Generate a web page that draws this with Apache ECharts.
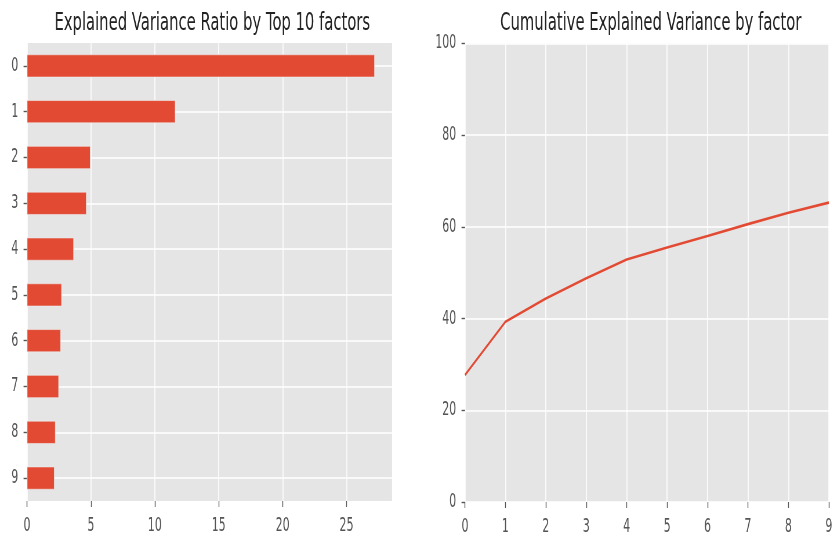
<!DOCTYPE html>
<html>
<head>
<meta charset="utf-8">
<script src="https://cdn.jsdelivr.net/npm/echarts@6/dist/echarts.min.js"></script>
<style>
  html, body { margin: 0; padding: 0; background: #fff; overflow: hidden; }
  /* the reference figure is squashed horizontally, so draw wide and squeeze */
  #chart { width: 1438px; height: 537px; transform: scaleX(0.58); transform-origin: 0 0; }
</style>
</head>
<body>
<div id="chart"></div>
<script>
// values
const factors = ['0', '1', '2', '3', '4', '5', '6', '7', '8', '9']
const varianceRatio = [27.2, 11.6, 4.96, 4.65, 3.65, 2.71, 2.63, 2.48, 2.22, 2.14]
const cumulativeVariance = [27.7, 39.3, 44.4, 48.8, 52.9, 55.5, 58.0, 60.6, 63.1, 65.3]
const ratioTicks = [0, 5, 10, 15, 20, 25]

const RED = '#E24A33'
const PANEL = '#E5E5E5'
const TICK = '#555555'
const FONT = 'DejaVu Sans'

const tickLabel = { color: TICK, fontFamily: FONT, fontSize: 19 }
const whiteGrid = { show: true, lineStyle: { color: '#fff', width: 1.6 } }
const outTick = { show: true, length: 6, lineStyle: { color: TICK, width: 1.4 } }
const titleStyle = { color: '#222', fontFamily: FONT, fontSize: 25.5, fontWeight: 'normal' }

const chart = echarts.init(document.getElementById('chart'))

chart.setOption({
  animation: false,
  title: [
    { text: 'Explained Variance Ratio by Top 10 factors', left: 361, top: 5, textAlign: 'center', textStyle: titleStyle },
    { text: 'Cumulative Explained Variance by factor', left: 1117, top: 5, textAlign: 'center', textStyle: titleStyle },
  ],
  grid: [
    { left: 46.6, width: 629.3, top: 43, bottom: 36, show: true, backgroundColor: PANEL, borderWidth: 0 },
    { left: 801.7, width: 630.5, top: 43.5, bottom: 35, show: true, backgroundColor: PANEL, borderWidth: 0 },
  ],
  xAxis: [
    {
      gridIndex: 0, type: 'value', min: 0, max: Math.max(...varianceRatio) * 1.05, interval: 5,
      axisLine: { show: false },
      axisTick: { ...outTick, customValues: ratioTicks },
      axisLabel: { ...tickLabel, margin: 16, customValues: ratioTicks },
      splitLine: whiteGrid,
    },
    {
      gridIndex: 1, type: 'value', min: 0, max: 9, interval: 1,
      axisLine: { show: false },
      axisTick: outTick,
      axisLabel: { ...tickLabel, margin: 16 },
      splitLine: whiteGrid,
    },
  ],
  yAxis: [
    {
      gridIndex: 0, type: 'category', data: factors, inverse: true,
      axisLine: { show: false },
      axisTick: { ...outTick, alignWithLabel: true },
      axisLabel: { ...tickLabel, margin: 15 },
      splitLine: { ...whiteGrid, alignWithLabel: true },
    },
    {
      gridIndex: 1, type: 'value', min: 0, max: 100, interval: 20,
      axisLine: { show: false },
      axisTick: outTick,
      axisLabel: { ...tickLabel, margin: 15 },
      splitLine: whiteGrid,
    },
  ],
  series: [
    {
      type: 'bar', xAxisIndex: 0, yAxisIndex: 0, data: varianceRatio,
      barWidth: '50%',
      itemStyle: { color: RED, borderColor: '#EEEEEE', borderWidth: 0.6 },
    },
    {
      type: 'line', xAxisIndex: 1, yAxisIndex: 1,
      data: cumulativeVariance.map((v, i) => [i, v]),
      symbol: 'none',
      lineStyle: { color: RED, width: 2.6 },
    },
  ],
})
</script>
</body>
</html>
